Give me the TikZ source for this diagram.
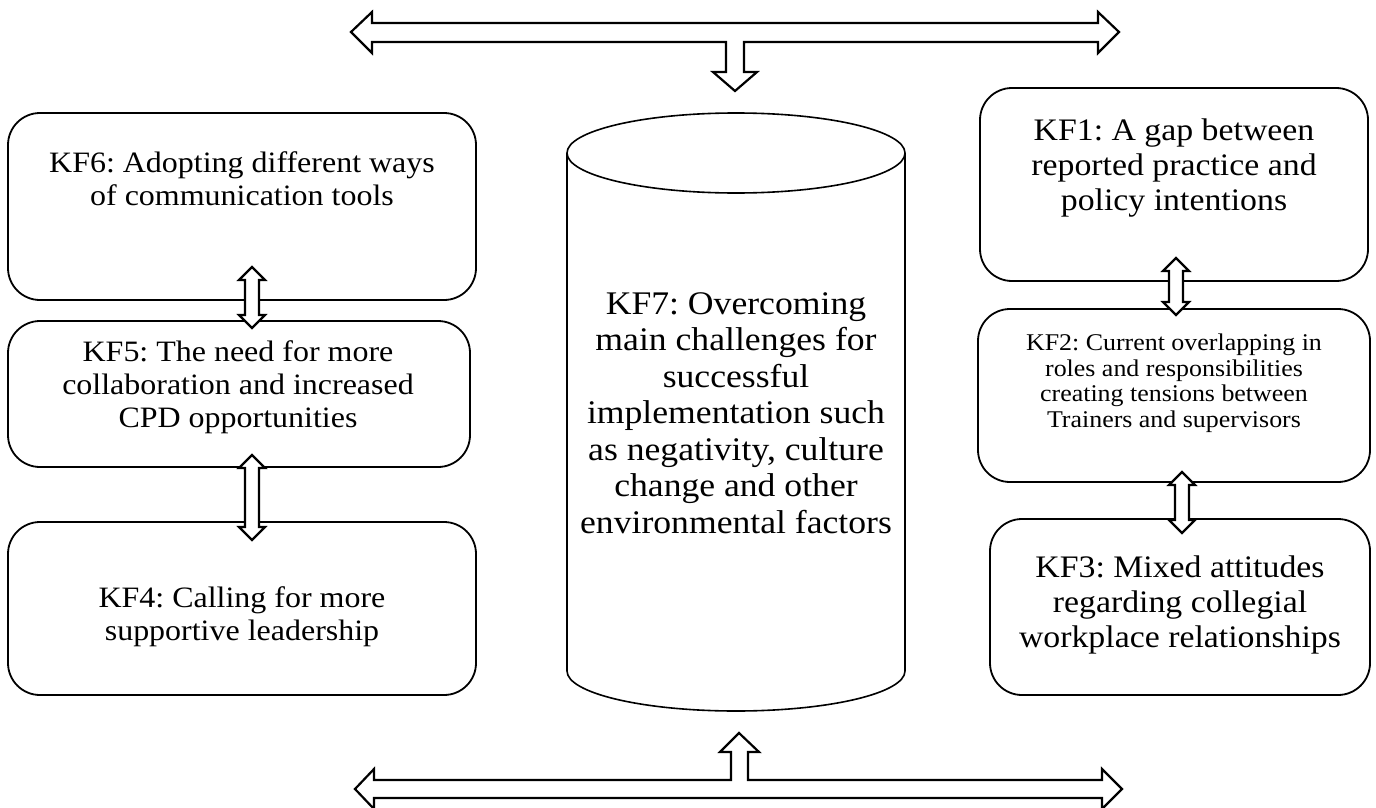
\documentclass[tikz,border=0pt]{standalone}
\usepackage{fontspec}
\setmainfont{Liberation Serif}
% lettering set a little wide
\newfontfamily\kffont{Liberation Serif}[FakeStretch=1.08]
\frenchspacing
\begin{document}
\begin{tikzpicture}[x=1pt,y=-1pt,
  box/.style={draw,line width=1.8pt,rounded corners=32pt},
  blockarrow/.style={draw,line width=2.2pt,fill=white,line join=miter},
  lefttext/.style={align=center,font=\kffont\fontsize{29.6}{33}\selectfont,inner sep=0pt},
  righttext/.style={align=center,font=\kffont\fontsize{31.3}{35}\selectfont,inner sep=0pt},
  cyltext/.style={align=center,font=\kffont\fontsize{33}{36.5}\selectfont,inner sep=0pt},
  smalltext/.style={align=center,font=\kffont\fontsize{24}{25.5}\selectfont,inner sep=0pt}]
\useasboundingbox (0,0) rectangle (1376,808);

% vertical double block arrow: #1 = x, #2 = top tip, #3 = bottom tip
\newcommand\vdblarrow[3]{%
  \draw[blockarrow] (#1,#2) -- ++(13,13) -- ++(-6,0) |- (#1+7,#3-13) -- ++(6,0)
    -- (#1,#3) -- ++(-13,-13) -- ++(6,0) |- (#1-7,#2+13) -- ++(-6,0) -- cycle;}

% left column
\draw[box] (8,113) rectangle (476,300) coordinate (kf6);
\draw[box] (8,321) rectangle (470,467) coordinate (kf5);
\draw[box] (8,522) rectangle (476,695) coordinate (kf4);
\node[lefttext] (t6) at (242,179) {KF6: Adopting different ways\\of communication tools};
\node[lefttext] (t5) at (238,387) {KF5: The need for more\\collaboration and increased\\CPD opportunities};
\node[lefttext] (t4) at (242,617) {KF4: Calling for more\\supportive leadership};

% right column
\draw[box] (980,88) rectangle (1368,281) coordinate (kf1);
\draw[box] (978,309) rectangle (1370,482) coordinate (kf2);
\draw[box] (990,519) rectangle (1370,695) coordinate (kf3);
\node[righttext] (t1) at (1174,168) {KF1: A gap between\\reported practice and\\policy intentions};
\node[smalltext] (t2) at (1174,383) {KF2: Current overlapping in\\roles and responsibilities\\creating tensions between\\Trainers and supervisors};
\node[righttext] (t3) at (1180,605) {KF3: Mixed attitudes\\regarding collegial\\workplace relationships};

% central cylinder
\draw[line width=1.6pt] (567,153) -- (567,671) arc[start angle=180,end angle=0,x radius=169,y radius=40] -- (905,153);
\draw[line width=1.6pt] (736,153) ellipse[x radius=169,y radius=40];
\node[cyltext] (t7) at (736,413) {KF7: Overcoming\\main challenges for\\successful\\implementation such\\as negativity, culture\\change and other\\environmental factors};

% links between stacked boxes
\vdblarrow{252}{267}{328}
\vdblarrow{252}{455}{540}
\vdblarrow{1176}{258}{315}
\vdblarrow{1182}{472}{533}

% top bar with arrow down into the cylinder
\draw[blockarrow] (351,32) -- (372,12) -- (372,23) -- (1098,23) -- (1098,12) -- (1119,32)
  -- (1098,53) -- (1098,42) -- (744,42) -- (744,72) -- (757,72) -- (735,91) -- (713,72)
  -- (726,72) -- (726,42) -- (372,42) -- (372,53) -- cycle;

% bottom bar with arrow up into the cylinder
\draw[blockarrow] (355,789) -- (374,769) -- (374,780) -- (731,780) -- (731,752) -- (720,752)
  -- (739,733) -- (759,752) -- (748,752) -- (748,780) -- (1102,780) -- (1102,769) -- (1122,789)
  -- (1102,809) -- (1102,798) -- (374,798) -- (374,809) -- cycle;
\end{tikzpicture}
\end{document}
